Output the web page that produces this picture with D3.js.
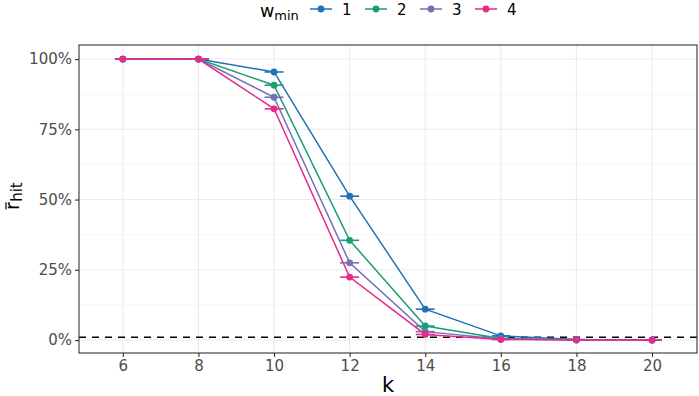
<!DOCTYPE html>
<html>
<head>
<meta charset="utf-8">
<script src="https://cdn.jsdelivr.net/npm/d3@7"></script>
<style>
  body { margin: 0; background: #fff; }
  text { font-family: "DejaVu Sans", sans-serif; }
</style>
</head>
<body>
<div id="chart"></div>
<script>
// data
var kValues = [6, 8, 10, 12, 14, 16, 18, 20];
var hitW1 = [1.0, 1.0, 0.954, 0.512, 0.110, 0.015, 0.002, 0.000];
var hitW2 = [1.0, 1.0, 0.907, 0.355, 0.050, 0.006, 0.001, 0.000];
var hitW3 = [1.0, 1.0, 0.864, 0.275, 0.030, 0.004, 0.001, 0.000];
var hitW4 = [1.0, 1.0, 0.823, 0.224, 0.020, 0.002, 0.000, 0.000];
var errHalf = [0.21, 0.28, 0.25, 0.25, 0.25, 0.24, 0.25, 0.26];
var wLabels = ["1", "2", "3", "4"];
var colors = ["#1f72b8", "#1b9e77", "#7570b3", "#e7298a"];
var xTicks = [6, 8, 10, 12, 14, 16, 18, 20];
var yTicks = [0, 0.25, 0.5, 0.75, 1];
var yMinor = [0.125, 0.375, 0.625, 0.875];
var threshold = 0.01;

var series = [hitW1, hitW2, hitW3, hitW4].map(function (vals, i) {
    return {
        label: wLabels[i],
        color: colors[i],
        points: vals.map(function (v, j) { return { k: kValues[j], v: v, e: errHalf[j] }; })
    };
});

var W = 699, H = 396;
var margin = { top: 45, right: 2, bottom: 43, left: 79 };

var svg = d3.select("#chart").append("svg")
    .attr("width", W).attr("height", H);

var x = d3.scaleLinear().domain([4.84, 21.19]).range([margin.left, W - margin.right]);
var y = d3.scaleLinear().domain([-0.046, 1.05]).range([H - margin.bottom, margin.top]);

var grid = svg.append("g");
grid.selectAll(".ymin").data(yMinor).enter().append("line")
    .attr("x1", margin.left).attr("x2", W - margin.right)
    .attr("y1", d => y(d)).attr("y2", d => y(d))
    .attr("stroke", "#f0f0f0").attr("stroke-width", 0.6);
grid.selectAll(".ymaj").data(yTicks).enter().append("line")
    .attr("x1", margin.left).attr("x2", W - margin.right)
    .attr("y1", d => y(d)).attr("y2", d => y(d))
    .attr("stroke", "#ebebeb").attr("stroke-width", 1.1);
grid.selectAll(".xmaj").data(xTicks).enter().append("line")
    .attr("y1", margin.top).attr("y2", H - margin.bottom)
    .attr("x1", d => x(d)).attr("x2", d => x(d))
    .attr("stroke", "#ebebeb").attr("stroke-width", 1.1);

// threshold line
svg.append("line")
    .attr("x1", margin.left).attr("x2", W - margin.right)
    .attr("y1", y(threshold)).attr("y2", y(threshold))
    .attr("stroke", "#000").attr("stroke-width", 1.3)
    .attr("stroke-dasharray", "7,6");

var line = d3.line().x(d => x(d.k)).y(d => y(d.v));

var plot = svg.append("g");
series.forEach(function (s) {
    plot.append("path")
        .datum(s.points)
        .attr("d", line)
        .attr("fill", "none")
        .attr("stroke", s.color)
        .attr("stroke-width", 1.5);
});
series.forEach(function (s) {
    plot.selectAll(null).data(s.points).enter().append("line")
        .attr("x1", d => x(d.k - d.e)).attr("x2", d => x(d.k + d.e))
        .attr("y1", d => y(d.v)).attr("y2", d => y(d.v))
        .attr("stroke", s.color).attr("stroke-width", 1.6);
    plot.selectAll(null).data(s.points).enter().append("circle")
        .attr("cx", d => x(d.k)).attr("cy", d => y(d.v))
        .attr("r", 3.4).attr("fill", s.color);
});

// panel border
svg.append("rect")
    .attr("x", margin.left).attr("y", margin.top)
    .attr("width", W - margin.right - margin.left)
    .attr("height", H - margin.bottom - margin.top)
    .attr("fill", "none").attr("stroke", "#333").attr("stroke-width", 1.1);

// axes
var xAxis = svg.append("g")
    .attr("transform", "translate(0," + (H - margin.bottom) + ")")
    .call(d3.axisBottom(x).tickValues(xTicks).tickSize(4).tickPadding(3));
var yAxis = svg.append("g")
    .attr("transform", "translate(" + margin.left + ",0)")
    .call(d3.axisLeft(y).tickValues(yTicks).tickSize(4).tickPadding(3)
        .tickFormat(d => Math.round(d * 100) + "%"));
[xAxis, yAxis].forEach(function (a) {
    a.select(".domain").remove();
    a.selectAll(".tick line").attr("stroke", "#333").attr("stroke-width", 1.1);
    a.selectAll(".tick text").attr("fill", "#4d4d4d").style("font-size", "15px");
});

// axis titles
svg.append("text")
    .attr("x", (margin.left + W - margin.right) / 2).attr("y", 392)
    .attr("text-anchor", "middle").style("font-size", "21px").text("k");

// r-bar with subscript "hit", rotated
var yt = svg.append("g").attr("transform", "translate(18.5,210) rotate(-90)");
yt.append("text").attr("x", 0).attr("y", 0).style("font-size", "19px").text("r");
yt.append("line").attr("x1", 0.5).attr("x2", 7.8).attr("y1", -12.5).attr("y2", -12.5)
    .attr("stroke", "#000").attr("stroke-width", 1.2);
yt.append("text").attr("x", 8.2).attr("y", 3).style("font-size", "15px").text("hit");

// legend
var lg = svg.append("g");
var lt = lg.append("text").attr("x", 260).attr("y", 16.5).style("font-size", "17.5px");
lt.append("tspan").text("w");
lt.append("tspan").attr("dy", 3.5).style("font-size", "13px").text("min");

var keyX = [310, 365, 420, 475];
series.forEach(function (s, i) {
    var g = lg.append("g").attr("transform", "translate(" + keyX[i] + ",9)");
    g.append("line").attr("x1", 0).attr("x2", 22).attr("stroke", s.color).attr("stroke-width", 1.5);
    g.append("circle").attr("cx", 11).attr("r", 3.4).attr("fill", s.color);
    g.append("text").attr("x", 32).attr("y", 5.5).style("font-size", "15px").text(s.label);
});
</script>
</body>
</html>
